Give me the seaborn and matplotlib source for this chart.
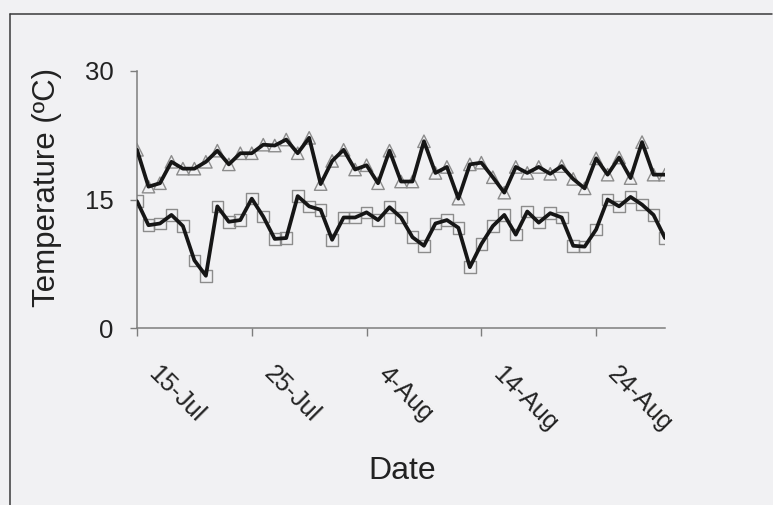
import matplotlib
matplotlib.use("Agg")
import matplotlib.pyplot as plt
from matplotlib.transforms import ScaledTranslation
from matplotlib.lines import Line2D
import pandas as pd
import seaborn as sns

# Daily temperatures, 15 Jul - 30 Aug
start_date = "2003-07-15"
end_date = "2003-08-30"
n_days = 47
upper_temp = [20.8, 16.5, 16.9, 19.4, 18.6, 18.6, 19.4, 20.7, 19.1, 20.4,
              20.4, 21.4, 21.3, 22.0, 20.4, 22.2, 16.8, 19.5, 20.8, 18.5,
              19.0, 16.9, 20.7, 17.1, 17.1, 21.8, 18.1, 18.8, 15.1, 19.1,
              19.3, 17.6, 15.8, 18.8, 18.1, 18.8, 18.0, 18.9, 17.4, 16.3,
              19.8, 17.9, 19.9, 17.5, 21.7, 17.9, 17.9]
lower_temp = [14.8, 12.0, 12.2, 13.2, 11.9, 7.9, 6.1, 14.2, 12.4, 12.6,
              15.1, 13.0, 10.4, 10.5, 15.4, 14.2, 13.8, 10.3, 12.9, 12.9,
              13.5, 12.6, 14.1, 12.9, 10.6, 9.6, 12.2, 12.6, 11.7, 7.1,
              9.8, 11.9, 13.2, 10.9, 13.6, 12.3, 13.4, 12.9, 9.6, 9.5,
              11.5, 15.0, 14.2, 15.3, 14.4, 13.2, 10.5]
tick_labels = ["15-Jul", "25-Jul", "4-Aug", "14-Aug", "24-Aug"]
y_ticks = [0, 15, 30]

dates = pd.date_range(start_date, periods=n_days, freq="D")
df = pd.DataFrame({"date": dates, "upper": upper_temp, "lower": lower_temp})

bg = "#f1f1f3"
sns.set_style("ticks")
plt.rcParams["font.family"] = ["Liberation Sans", "DejaVu Sans"]

fig = plt.figure(figsize=(7.73, 5.05), dpi=100, facecolor=bg)
W, H = 773, 505
ax = fig.add_axes([137 / W, 1 - 328 / H, 528 / W, 257 / H])
ax.set_facecolor(bg)

marker_edge = "#8c8c8c"
line_col = "#161616"

# hollow daily markers
sns.scatterplot(data=df, x="date", y="upper", marker="^", s=80,
                facecolor="none", edgecolor=marker_edge, linewidth=1.0,
                ax=ax, zorder=2)
sns.scatterplot(data=df, x="date", y="lower", marker="s", s=70,
                facecolor="none", edgecolor=marker_edge, linewidth=1.0,
                ax=ax, zorder=2)

# heavy lines through the daily values
for col in ("upper", "lower"):
    sns.lineplot(data=df, x="date", y=col, color=line_col, linewidth=2.7,
                 solid_joinstyle="round", solid_capstyle="round",
                 ax=ax, zorder=3)

ax.set_xlim(pd.Timestamp(start_date), pd.Timestamp(end_date))
ax.set_ylim(0, 30)
ax.set_yticks(y_ticks)
ax.set_yticklabels([str(v) for v in y_ticks])

axis_col = "#7d7d7d"
text_col = "#222222"
for side in ("top", "right"):
    ax.spines[side].set_visible(False)
for side in ("left", "bottom"):
    ax.spines[side].set_color(axis_col)
    ax.spines[side].set_linewidth(1.1)

ax.tick_params(axis="y", direction="out", length=5, width=1.0,
               color=axis_col, labelsize=18.5, labelcolor=text_col, pad=12)
ax.tick_params(axis="x", direction="out", length=5.5, width=1.0,
               color=axis_col, labelsize=18, labelcolor=text_col, pad=19)

tick_dates = pd.date_range(start_date, periods=len(tick_labels), freq="10D")
ax.set_xticks(tick_dates)
ax.set_xticklabels(tick_labels, rotation=-45, ha="left", va="top",
                   rotation_mode="anchor")
shift = ScaledTranslation(24 / 100, 0, fig.dpi_scale_trans)
for tick in ax.xaxis.get_major_ticks():
    tick.label1.set_transform(tick.label1.get_transform() + shift)

ax.set_xlabel("Date", fontsize=23, color=text_col)
ax.set_ylabel("Temperature (ºC)", fontsize=22.5, color=text_col)
ax.xaxis.set_label_coords(0.502, -0.497)
ax.yaxis.set_label_coords(-0.142, 0.545)

# page frame (top and left edges)
fig.add_artist(Line2D([10 / W, 0.999], [1 - 14 / H, 1 - 14 / H],
                      transform=fig.transFigure, color="#3a3a3a", lw=1.1))
fig.add_artist(Line2D([10 / W, 10 / W], [1 - 14 / H, 0.0],
                      transform=fig.transFigure, color="#3a3a3a", lw=1.1))

fig.savefig("out.png", dpi=100, facecolor=bg)
